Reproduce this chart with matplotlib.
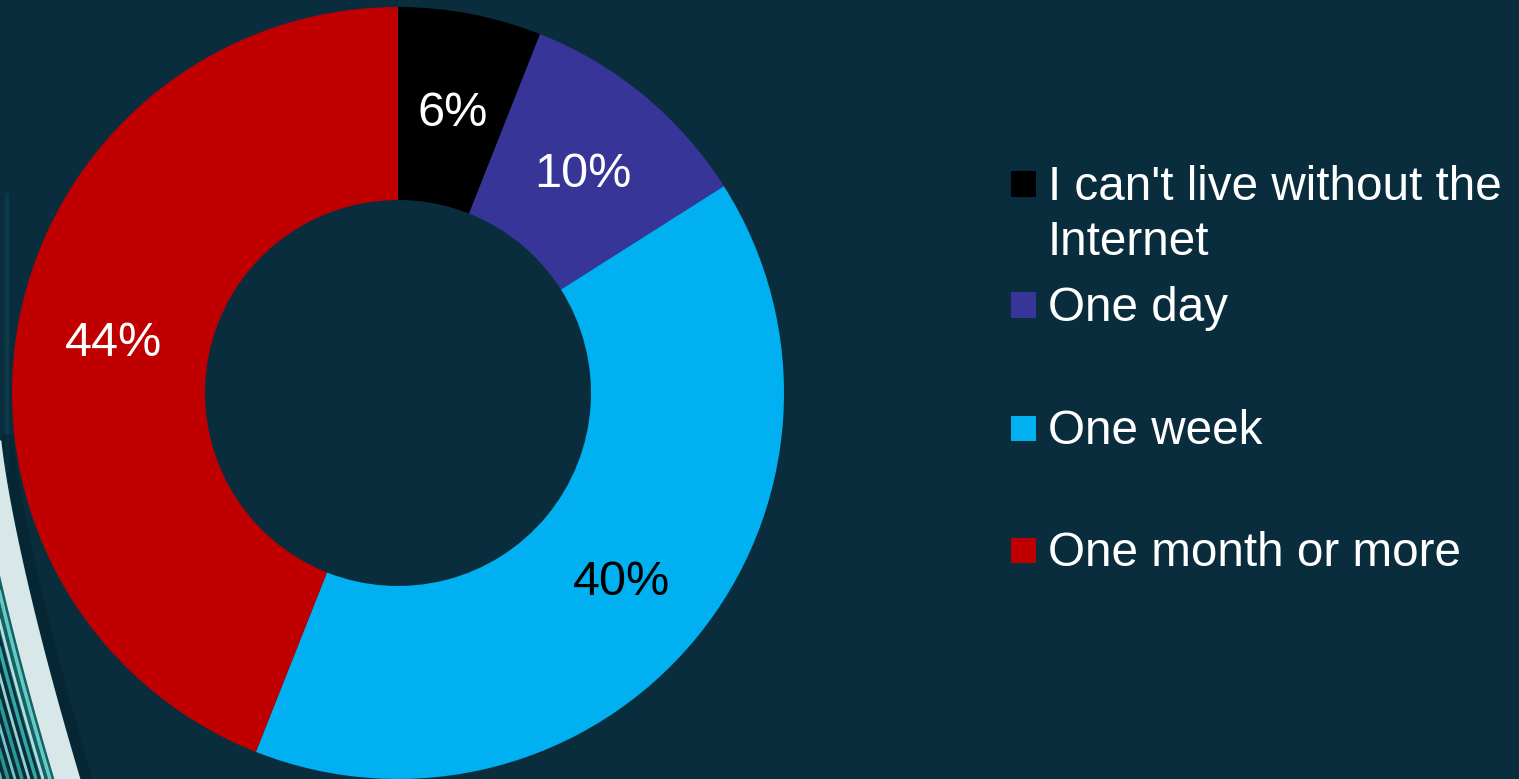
import numpy as np
import matplotlib
matplotlib.use("Agg")
import matplotlib.pyplot as plt
from matplotlib.patches import Rectangle

plt.rcParams["font.family"] = ["Liberation Sans", "DejaVu Sans"]

# Survey: how long could you go without the Internet?
categories = ["I can't live without the\nInternet", "One day", "One week", "One month or more"]
shares = [6, 10, 40, 44]
slice_colors = ["#000000", "#373598", "#00B0F0", "#C00000"]
pct_text_colors = ["white", "white", "black", "white"]

BG = "#0A2D3E"
W, H, DPI = 1519, 779, 100
fig = plt.figure(figsize=(W / DPI, H / DPI), dpi=DPI, facecolor=BG)

# Decorative light streaks along the lower-left edge (pixel coordinates)
deco = fig.add_axes([0, 0, 1, 1], zorder=0)
deco.set_xlim(0, W)
deco.set_ylim(H, 0)
deco.axis("off")
yy = np.linspace(440, H, 200)
base = 80 * np.clip((yy - 430) / 349, 0, None) ** 1.3
deco.plot([7, 7], [195, 470], color="#145A66", lw=3, alpha=0.3)
deco.fill_betweenx(yy, base - 40, base, color="#1E8C88", alpha=0.55, lw=0)
deco.fill_betweenx(yy, base - 26, base, color="#EAF5F5", alpha=0.92, lw=0)
for off, col, lw in [(-30, "#6FD6CC", 2.5), (-37, "#C8EEEA", 2), (-44, "#35B7AC", 2.5),
                     (-51, "#A5E6DF", 2), (-58, "#2AA89E", 2.5), (-65, "#7FD8D0", 2),
                     (-72, "#2E9E96", 2.5), (-79, "#5CCFC4", 2)]:
    deco.plot(base + off, yy, color=col, lw=lw, alpha=0.9, solid_capstyle="butt")
deco.plot(base + 7, yy, color="#06202C", lw=8, alpha=0.5)

# Donut chart
cx, cy, r = 398, 393, 386
ax = fig.add_axes([(cx - r) / W, (H - cy - r) / H, 2 * r / W, 2 * r / H], zorder=1)
ax.set_facecolor("none")
wedges, _, autotexts = ax.pie(
    shares, colors=slice_colors, startangle=90, counterclock=False,
    autopct="%.0f%%", pctdistance=0.75, radius=1.0,
    wedgeprops=dict(width=0.5, edgecolor="none"),
    textprops=dict(fontsize=35),
)
for t, c in zip(autotexts, pct_text_colors):
    t.set_color(c)
    t.set_va("center_baseline")
ax.set_xlim(-1, 1)
ax.set_ylim(-1, 1)
ax.set_aspect("equal")

# Legend drawn at the right
marker_y = [184, 305, 428, 550]
for lab, col, my in zip(categories, slice_colors, marker_y):
    fig.patches.append(Rectangle((1011 / W, 1 - (my + 12.5) / H), 25 / W, 25 / H,
                                 transform=fig.transFigure, facecolor=col,
                                 edgecolor="none", zorder=2))
    for i, line in enumerate(lab.split("\n")):
        base_y = my + 16 + 55 * i
        fig.text(1048 / W, 1 - base_y / H, line, color="white", fontsize=34.3,
                 ha="left", va="baseline")

fig.savefig("out.png", dpi=DPI, facecolor=BG)
